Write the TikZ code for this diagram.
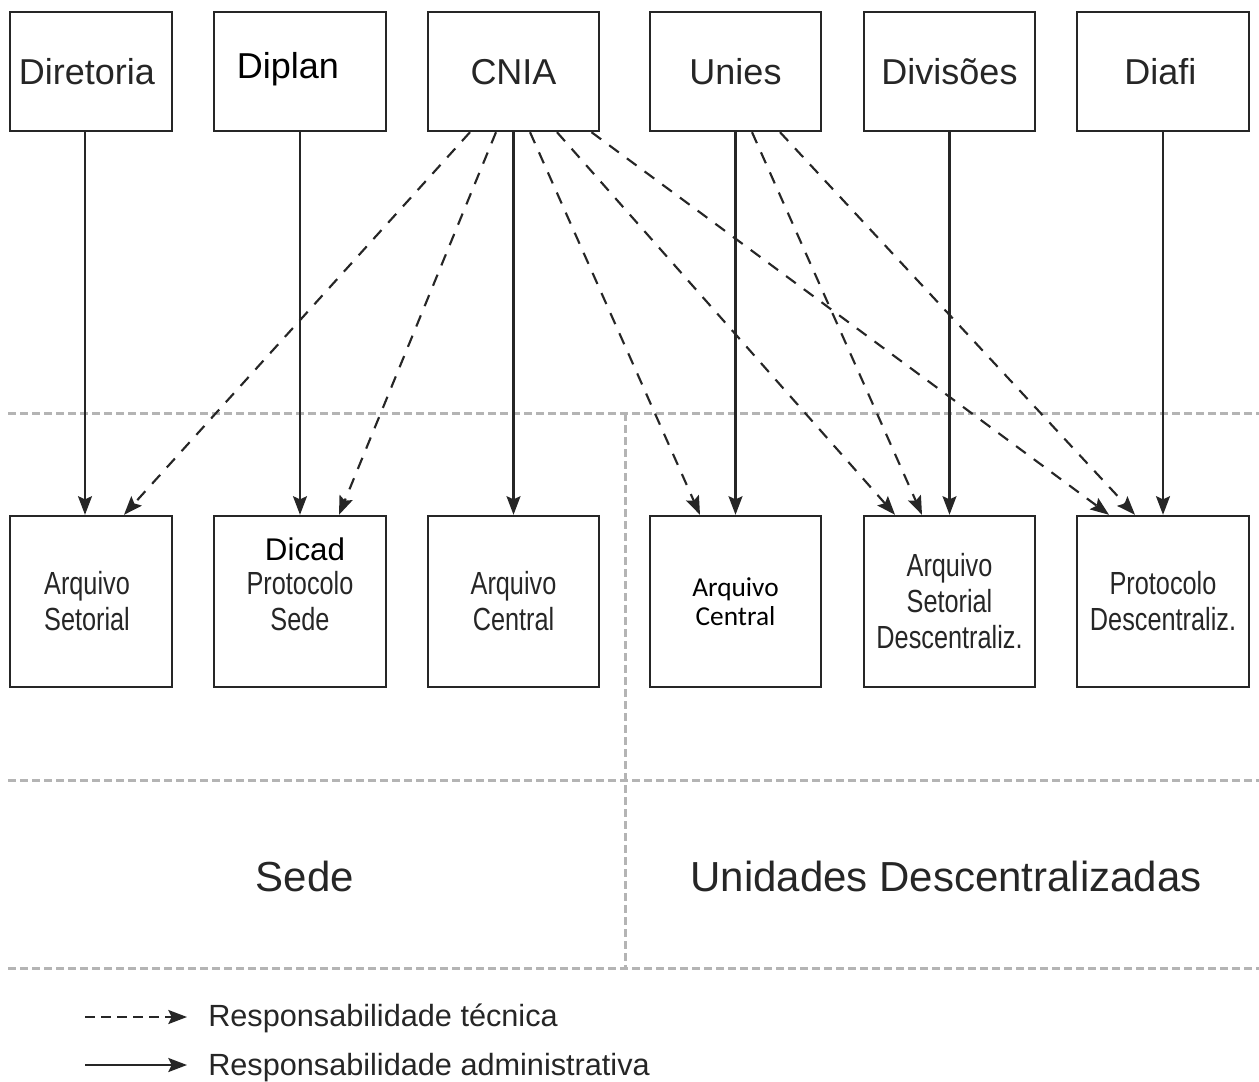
\documentclass[tikz,border=0pt]{standalone}
\usepackage{fontspec}
\setmainfont{Liberation Sans}
\newfontfamily\condfont[FakeStretch=0.79]{Liberation Sans}
\newfontfamily\calfont{Carlito}
\usetikzlibrary{arrows.meta,calc}
\definecolor{ink}{HTML}{262626}
\definecolor{zone}{HTML}{B4B4B4}

\begin{document}
\begin{tikzpicture}[x=0.75pt,y=-0.75pt,
  box/.style={draw=ink,line width=1.8pt,inner sep=0pt,text=ink,align=center},
  topbox/.style={box,minimum height=89.25pt,font=\fontsize{27}{32}\selectfont,
    text height=19.3pt,text depth=0pt},
  lowbox/.style={box,minimum height=128.25pt,font=\condfont\fontsize{24}{27}\selectfont},
  adm/.style={draw=ink,line width=1.6pt,-{Stealth[length=14pt,width=10.5pt,inset=2.5pt]}},
  tec/.style={adm,dash pattern=on 9pt off 7.5pt},
  zoneline/.style={draw=zone,line width=2.25pt,dash pattern=on 6pt off 3pt},
  legendtext/.style={inner sep=0pt,text=ink,font=\fontsize{23}{27}\selectfont},
  regiontext/.style={inner sep=0pt,text=ink,font=\fontsize{31.5}{36}\selectfont}
]
\useasboundingbox (0,0) rectangle (1259,1081);

% zone separators
\draw[zoneline] (8,413) -- (1259,413);
\draw[zoneline] (8,780) -- (1259,780);
\draw[zoneline] (8,968) -- (1259,968);
\draw[zoneline] (625,413) -- (625,968);

% top row
\node[topbox,minimum width=121.5pt] (dir) at (91,71.5) {\hspace*{-6pt}Diretoria};
\node[topbox,minimum width=129pt] (dip) at (300,71.5) {};
\node[inner sep=0pt,text=black,font=\fontsize{27}{32}\selectfont,anchor=base] (diptxt) at (288,79) {Diplan};
\node[topbox,minimum width=128.25pt] (cnia) at (513.5,71.5) {CNIA};
\node[topbox,minimum width=128.25pt] (uni) at (735.5,71.5) {Unies};
\node[topbox,minimum width=128.25pt] (div) at (949.5,71.5) {Divisões};
\node[topbox,minimum width=129pt] (dia) at (1163,71.5) {\hspace*{-4pt}Diafi};

% lower row
\node[lowbox,minimum width=121.5pt] (as1) at (91,601.5) {\hspace*{-6pt}Arquivo\\\hspace*{-6pt}Setorial};
\node[lowbox,minimum width=129pt] (ps) at (300,601.5) {Protocolo\\Sede};
\node[inner sep=0pt,text=black,font=\fontsize{23.5}{27}\selectfont] (dicad) at (305,549) {Dicad};
\node[lowbox,minimum width=128.25pt] (ac1) at (513.5,601.5) {Arquivo\\Central};
\node[lowbox,minimum width=128.25pt,font=\calfont\fontsize{20.5}{22}\selectfont,text=black] (ac2) at (735.5,601.5) {Arquivo\\Central};
\node[lowbox,minimum width=128.25pt] (asd) at (949.5,601.5) {Arquivo\\Setorial\\Descentraliz.};
\node[lowbox,minimum width=129pt] (pd) at (1163,601.5) {Protocolo\\Descentraliz.};

% administrative links
\draw[adm] ($(dir.south)+(-6,0)$) -- ($(as1.north)+(-6,0)$);
\draw[adm] (dip.south) -- (ps.north);
\draw[adm] (cnia.south) -- (ac1.north);
\draw[adm] (uni.south) -- (ac2.north);
\draw[adm] (div.south) -- (asd.north);
\draw[adm] (dia.south) -- (pd.north);

% technical links
\draw[tec] ($(cnia.south)+(-43.5,0)$) -- ($(as1.north)+(33,0)$);
\draw[tec] ($(cnia.south)+(-17.5,0)$) -- ($(ps.north)+(39,0)$);
\draw[tec] ($(cnia.south)+(16.5,0)$) -- ($(ac2.north)+(-35.5,0)$);
\draw[tec] ($(cnia.south)+(43.5,0)$) -- ($(asd.north)+(-54.5,0)$);
\draw[tec] ($(cnia.south)+(78,0)$) -- ($(pd.north)+(-54,0)$);
\draw[tec] ($(uni.south)+(16.5,0)$) -- ($(asd.north)+(-27.5,0)$);
\draw[tec] ($(uni.south)+(44.5,0)$) -- ($(pd.north)+(-28,0)$);

% regions
\node[regiontext,anchor=base] (sede) at (305,891) {Sede};
\node[regiontext,anchor=base] (ud) at (946,891) {Unidades Descentralizadas};

% legend
\coordinate (lt0) at (85,1017);
\coordinate (lt1) at (187,1017);
\coordinate (la0) at (85,1065);
\coordinate (la1) at (187,1065);
\draw[tec,dash pattern=on 7.5pt off 4.5pt] (lt0) -- (lt1);
\draw[adm] (la0) -- (la1);
\node[legendtext,anchor=base west] (ltxt) at (208,1026) {Responsabilidade técnica};
\node[legendtext,anchor=base west] (latxt) at (208,1075) {Responsabilidade administrativa};
\end{tikzpicture}
\end{document}
